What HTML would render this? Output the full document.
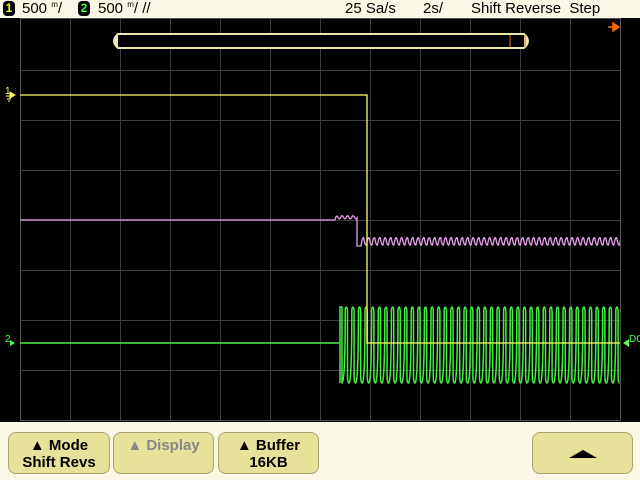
<!DOCTYPE html>
<html><head><meta charset="utf-8"><style>
body{margin:0;width:640px;height:480px;background:#000;overflow:hidden;font-family:"Liberation Sans",sans-serif;}
.top{position:absolute;left:0;top:0;width:640px;height:18px;background:#fcf8e6;font-size:15px;color:#000;}
.bot{position:absolute;left:0;top:422px;width:640px;height:58px;background:#fcf8e6;}
.btn{position:absolute;top:10px;height:42px;background:#e6e29a;border:1px solid #a8a470;border-radius:8px;text-align:center;font-size:15px;font-weight:bold;line-height:17px;padding-top:4px;box-sizing:border-box;}
</style></head><body>
<div class="top">
<span style="position:absolute;left:3px;top:1px;width:12px;height:15px;background:#000;border-radius:4px;color:#ff0;font-size:12px;font-weight:bold;text-align:center;line-height:15px">1</span>
<span style="position:absolute;left:22px;top:0px">500 <sup style="font-size:8px">m</sup>/</span>
<span style="position:absolute;left:78px;top:1px;width:12px;height:15px;background:#000;border-radius:4px;color:#3f3;font-size:12px;font-weight:bold;text-align:center;line-height:15px">2</span>
<span style="position:absolute;left:98px;top:0px">500 <sup style="font-size:8px">m</sup>/ //</span>
<span style="position:absolute;left:345px;top:0px">25 Sa/s</span>
<span style="position:absolute;left:423px;top:0px">2s/</span>
<span style="position:absolute;left:471px;top:0px">Shift Reverse&nbsp; Step</span>
</div>
<svg width="640" height="480" style="position:absolute;left:0;top:0" id="s">
<defs><clipPath id="c"><rect x="20" y="18" width="600" height="403"/></clipPath></defs>
<g stroke="#3c3c3c" stroke-width="1" id="grid"></g>
<rect x="20.5" y="18.5" width="600" height="402" fill="none" stroke="#555"/>
<path d="M118,34 H524 Q532,41 524,48 H118 Q110,41 118,34 Z" fill="#000" stroke="#ece8b0" stroke-width="2"/>
<path d="M118,34 Q110,41 118,48 Z M524,34 Q532,41 524,48 Z" fill="#ece8b0"/>
<line x1="510" y1="35" x2="510" y2="47" stroke="#f60"/><line x1="525" y1="35" x2="525" y2="47" stroke="#f60"/>
<path d="M608,27 H613 M613,23 L619,27 L613,31 Z" stroke="#f60" fill="#f60" stroke-width="1.5"/>
<text x="5" y="94" fill="#ff5" font-size="10" font-family="Liberation Sans">1</text>
<path d="M6,96 H12 M7,99 H11 M8,101 H10 M10,92 L15,95 L10,98Z" stroke="#ff5" fill="#ff5"/>
<text x="5" y="342" fill="#5f5" font-size="10" font-family="Liberation Sans">2</text>
<path d="M10,340 L15,343 L10,346Z" fill="#5f5"/>
<path d="M623,343 L629,339 L629,347Z" fill="#5f5"/><text x="629" y="342" fill="#5f5" font-size="10" font-family="Liberation Sans">DC</text>
<g clip-path="url(#c)">
<path id="pk" fill="none" stroke="#e9a0e9" stroke-width="1.3"/>
<path id="gr" fill="none" stroke="#44ee44" stroke-width="1.5"/>
<path d="M20,95 H367 V343 H620" fill="none" stroke="#ffff66" stroke-width="1.3"/>
</g>
</svg>
<div class="bot">
<div class="btn" style="left:8px;width:102px">▲ Mode<br>Shift Revs</div>
<div class="btn" style="left:113px;width:101px;color:#888">▲ Display</div>
<div class="btn" style="left:218px;width:101px">▲ Buffer<br>16KB</div>
<div class="btn" style="left:532px;width:101px;padding-top:0"><svg width="40" height="40" style="margin-top:1px"><path d="M6,24 L20,16 L34,24 Z" fill="#000"/></svg></div>
</div>
<script>
var g=document.getElementById('grid'),h='';
for(var x=70;x<620;x+=50)h+='<line x1="'+(x+.5)+'" y1="18" x2="'+(x+.5)+'" y2="420"/>';
for(var y=70;y<420;y+=50)h+='<line x1="20" y1="'+(y+.5)+'" x2="620" y2="'+(y+.5)+'"/>';
g.innerHTML=h;
var p='M20,220 H335';
for(var x=335;x<356;x+=5.5)p+=' Q'+(x+1.4)+',214 '+(x+2.75)+',217 Q'+(x+4.1)+',220 '+(x+5.5)+',218';
p+=' V246 H361';
for(var x=361;x<620;x+=5.5)p+=' Q'+(x+1.4)+',236 '+(x+2.75)+',238 Q'+(x+4.1)+',246 '+(x+5.5)+',245';
document.getElementById('pk').setAttribute('d',p);
var q='M20,343 H340 V383 V307 H342 V383';
for(var x=344;x<620;x+=6.6)q+=' Q'+(x+1)+',383 '+(x+1.2)+',320 V310 Q'+(x+1.6)+',307 '+(x+2.4)+',307 Q'+(x+3.3)+',307 '+(x+3.5)+',312 V378 Q'+(x+3.8)+',383 '+(x+5)+',383';
document.getElementById('gr').setAttribute('d',q);
</script>
</body></html>
